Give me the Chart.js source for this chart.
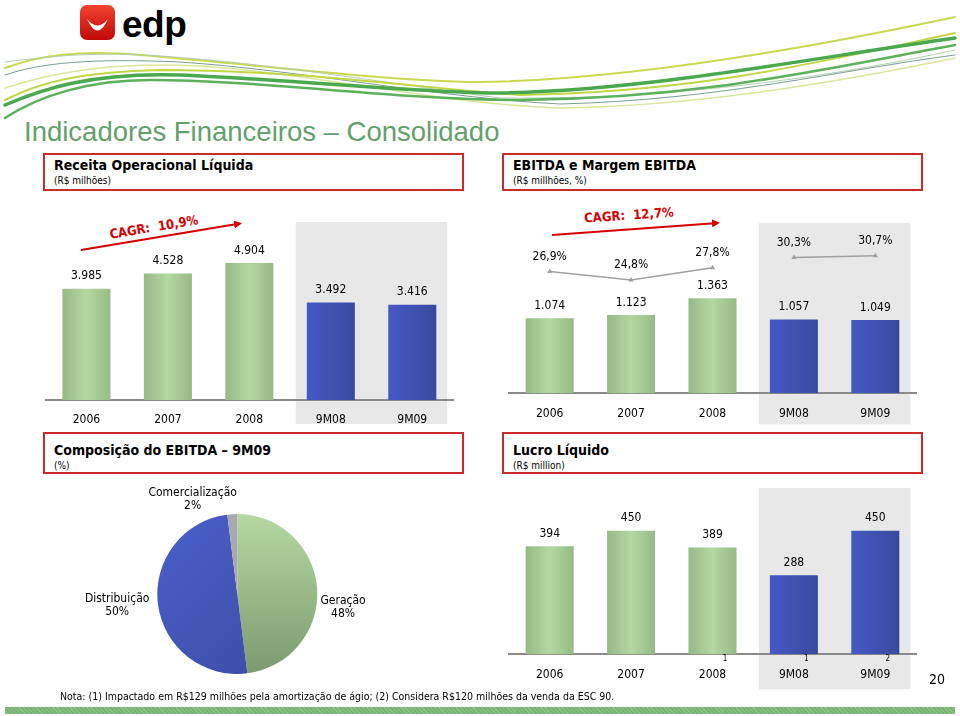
<!DOCTYPE html>
<html>
<head>
<meta charset="utf-8">
<script src="https://cdn.jsdelivr.net/npm/chart.js@4.4.1/dist/chart.umd.min.js"></script>
<style>
  body { margin: 0; width: 960px; height: 716px; position: relative; overflow: hidden; background: #fff;
         font-family: Tahoma, "DejaVu Sans Condensed", "DejaVu Sans", sans-serif; color: #000; }
  canvas { position: absolute; }
  .box { position: absolute; border: 2px solid #cc2b2b; box-sizing: border-box; }
  .box b { position: absolute; left: 9px; font-size: 14px; white-space: nowrap; }
  .box span { position: absolute; left: 9px; font-size: 10px; white-space: nowrap; }
  #title { position: absolute; left: 24px; top: 116px; font: 27.5px "Liberation Sans", Arial, sans-serif; color: #63a06c; white-space: nowrap; }
  #nota { position: absolute; left: 60px; top: 690px; font-size: 10.5px; white-space: nowrap; }
  #page { position: absolute; left: 929px; top: 671px; font-size: 14px; }
  #strip { position: absolute; left: 5px; top: 707px; width: 950px; height: 7px;
           background: repeating-linear-gradient(45deg, #7ab477 0 2px, #8cc488 2px 3px); }
</style>
</head>
<body>

<svg width="960" height="716" style="position:absolute;left:0;top:0">
  <defs>
    <linearGradient id="logoRed" x1="0" y1="0" x2="0" y2="1">
      <stop offset="0" stop-color="#f2432f"/>
      <stop offset="1" stop-color="#c00a0a"/>
    </linearGradient>
    <marker id="arrow" markerWidth="8" markerHeight="8" refX="6" refY="4" orient="auto" markerUnits="userSpaceOnUse">
      <path d="M0,0 L8,4 L0,8 Z" fill="#d40000"/>
    </marker>
  </defs>
  <!-- logo -->
  <rect x="80" y="5" width="35" height="35" rx="7" fill="url(#logoRed)"/>
  <path d="M87,19 Q97.5,42 108,19 Q97.5,32 87,19 Z" fill="#fff"/>
  <text x="122" y="37" font-family="'Liberation Sans', Arial, sans-serif" font-weight="bold" font-size="37" letter-spacing="-0.5">edp</text>
  <!-- swooshes -->
  <g fill="none" stroke-linecap="round">
    <path d="M5,68 C40,55 80,50 140,55 C260,65 400,82 480,82 C620,80 800,50 955,17" stroke="#c9d94f" stroke-width="2"/>
    <path d="M5,62 C60,55 100,52 160,56 C280,64 420,88 500,98 C680,100 840,75 955,50" stroke="#b6cfb0" stroke-width="1"/>
    <path d="M5,75 C40,63 90,58 180,62 C300,70 440,98 560,104 C720,100 840,70 955,55" stroke="#7a9e95" stroke-width="1"/>
    <path d="M5,88 C60,70 120,62 200,66 C320,74 440,104 560,108 C700,106 840,82 955,58" stroke="#dbe69a" stroke-width="1.5"/>
    <path d="M5,100 C40,82 80,72 160,70 C300,70 420,88 520,95 C700,92 820,62 955,33" stroke="#c2d646" stroke-width="2"/>
    <path d="M5,105 C40,90 90,72 180,75 C300,80 420,93 500,93 C650,90 800,60 955,38" stroke="#4aa84f" stroke-width="3.5"/>
    <path d="M5,118 C40,95 90,80 150,80 C260,80 400,100 520,100 C700,98 820,70 955,45" stroke="#5bb25b" stroke-width="2.5"/>
  </g>
  <!-- CAGR arrows -->
  <line x1="81" y1="250" x2="240" y2="223.5" stroke="#d40000" stroke-width="2" marker-end="url(#arrow)"/>
  <text transform="translate(154,228) rotate(-9.5)" text-anchor="middle" dominant-baseline="middle"
        font-family="Tahoma, 'DejaVu Sans Condensed', 'DejaVu Sans', sans-serif" font-weight="bold" font-size="13" fill="#d40000">CAGR:&#160; 10,9%</text>
  <line x1="552" y1="235" x2="718" y2="223" stroke="#d40000" stroke-width="2" marker-end="url(#arrow)"/>
  <text transform="translate(629,216) rotate(-4)" text-anchor="middle" dominant-baseline="middle"
        font-family="Tahoma, 'DejaVu Sans Condensed', 'DejaVu Sans', sans-serif" font-weight="bold" font-size="13" fill="#d40000">CAGR:&#160; 12,7%</text>
</svg>

<div id="title">Indicadores Financeiros – Consolidado</div>

<div class="box" style="left:43px;top:153px;width:421px;height:38px"><b style="top:2px">Receita Operacional Líquida</b><span style="top:20px">(R$ milhões)</span></div>
<div class="box" style="left:502px;top:153px;width:421px;height:38px"><b style="top:2px">EBITDA e Margem EBITDA</b><span style="top:20px">(R$ millhões, %)</span></div>
<div class="box" style="left:43px;top:432px;width:421px;height:42px"><b style="top:8px">Composição do EBITDA – 9M09</b><span style="top:26px">(%)</span></div>
<div class="box" style="left:502px;top:432px;width:421px;height:42px"><b style="top:8px">Lucro Líquido</b><span style="top:26px">(R$ million)</span></div>

<canvas id="receitaChart" width="440" height="225" style="left:30px;top:210px"></canvas>
<canvas id="ebitdaChart" width="440" height="235" style="left:490px;top:200px"></canvas>
<canvas id="pieChart" width="355" height="200" style="left:60px;top:480px"></canvas>
<canvas id="lucroChart" width="440" height="225" style="left:490px;top:480px"></canvas>

<div id="nota">Nota: (1) Impactado em R$129 milhões pela amortização de ágio; (2) Considera R$120 milhões da venda da ESC 90.</div>
<div id="page">20</div>
<div id="strip"></div>

<script>
const years = ["2006", "2007", "2008", "9M08", "9M09"];
const receita = [3985, 4528, 4904, 3492, 3416];
const ebitda = [1074, 1123, 1363, 1057, 1049];
const margem = [26.9, 24.8, 27.8, 30.3, 30.7];
const lucro = [394, 450, 389, 288, 450];
const lucroNotes = ["", "", "1", "1", "2"];
const pieLabels = ["Geração", "Distribuição", "Comercialização"];
const pieValues = [48, 50, 2];

const FONT = 'Tahoma, "DejaVu Sans Condensed", "DejaVu Sans", sans-serif';
Chart.defaults.font.family = FONT;
Chart.defaults.color = "#000";

const thousands = v => String(v).replace(/\B(?=(\d{3})+(?!\d))/g, ".");
const pct = v => v.toFixed(1).replace(".", ",") + "%";

// horizontal gradient on each bar, green for years, blue for 9M
function barFill(ctx) {
    const chart = ctx.chart;
    const i = ctx.dataIndex;
    const solid = i < 3 ? "#a6cb93" : "#4054b4";
    const x = chart.scales.x;
    if (!chart.chartArea || !x || ctx.type !== "data") return solid;
    const cx = x.getPixelForValue(i);
    const hw = x.width / years.length * 0.59 / 2;
    const g = chart.ctx.createLinearGradient(cx - hw, 0, cx + hw, 0);
    if (i < 3) {
        g.addColorStop(0, "#96ba86");
        g.addColorStop(0.5, "#b4d8a0");
        g.addColorStop(1, "#96ba86");
    } else {
        g.addColorStop(0, "#4559c4");
        g.addColorStop(1, "#384a9f");
    }
    return g;
}

// grey band behind 9M columns, value labels, footnote marks
const decoPlugin = {
    id: "deco",
    beforeDraw(chart, args, opts) {
        const x = chart.scales.x, a = chart.chartArea, c = chart.ctx;
        c.save();
        c.fillStyle = "#e8e8e8";
        const l = x.getPixelForValue(3) - 35, r = x.getPixelForValue(4) + 35;
        c.fillRect(l, a.top, r - l, a.bottom - a.top + opts.below);
        c.restore();
    },
    afterDatasetsDraw(chart) {
        const c = chart.ctx;
        c.save();
        c.font = "12px " + FONT;
        c.fillStyle = "#000";
        c.textAlign = "center";
        c.textBaseline = "middle";
        chart.data.datasets.forEach((ds, di) => {
            const meta = chart.getDatasetMeta(di);
            meta.data.forEach((el, i) => {
                if (ds.type === "line") c.fillText(pct(ds.data[i]), el.x, el.y - 15);
                else c.fillText(thousands(ds.data[i]), el.x, el.y - 12.5);
            });
        });
        c.restore();
    },
    afterDraw(chart, args, opts) {
        if (!opts.notes) return;
        const c = chart.ctx, x = chart.scales.x;
        c.save();
        c.font = "8px " + FONT;
        c.fillStyle = "#000";
        c.textAlign = "center";
        c.textBaseline = "middle";
        opts.notes.forEach((n, i) => { if (n) c.fillText(n, x.getPixelForValue(i) + 12.5, chart.chartArea.bottom + 5); });
        c.restore();
    }
};

function xAxis() {
    return {
        grid: { display: false, drawTicks: false },
        border: { display: true, color: "#8a8a8a", width: 2 },
        ticks: { padding: 13, font: { size: 12 }, color: "#000" },
        afterFit: s => { s.height = 30; }
    };
}

function barChart(id, values, yMax, pad, below, notes) {
    new Chart(document.getElementById(id), {
        type: "bar",
        data: {
            labels: years,
            datasets: [{ data: values, backgroundColor: barFill, barPercentage: 0.59, categoryPercentage: 1 }]
        },
        options: {
            responsive: false,
            animation: false,
            layout: { padding: pad },
            plugins: { legend: { display: false }, tooltip: { enabled: false }, deco: { below: below, notes: notes } },
            scales: { x: xAxis(), y: { display: false, min: 0, max: yMax } }
        },
        plugins: [decoPlugin]
    });
}

barChart("receitaChart", receita, 6376, { left: 15.7, right: 17, top: 12, bottom: 5 }, 24);
barChart("lucroChart", lucro, 606, { left: 19, right: 14, top: 8, bottom: 20.7 }, 35, lucroNotes);

new Chart(document.getElementById("ebitdaChart"), {
    data: {
        labels: years,
        datasets: [
            {
                type: "line", data: margem, yAxisID: "y1",
                borderColor: "#a0a0a0", borderWidth: 1.5,
                pointStyle: "triangle", pointRadius: 3, pointBackgroundColor: "#a0a0a0", pointBorderWidth: 0,
                segment: { borderColor: ctx => ctx.p0DataIndex === 2 ? "rgba(0,0,0,0)" : "#a0a0a0" }
            },
            { type: "bar", data: ebitda, backgroundColor: barFill, barPercentage: 0.59, categoryPercentage: 1 }
        ]
    },
    options: {
        responsive: false,
        animation: false,
        layout: { padding: { left: 19, right: 14, top: 23, bottom: 11.7 } },
        plugins: { legend: { display: false }, tooltip: { enabled: false }, deco: { below: 31 } },
        scales: {
            x: xAxis(),
            y: { display: false, min: 0, max: 2440 },
            y1: { display: false, min: -2.83, max: 38.71 }
        }
    },
    plugins: [decoPlugin]
});

// pie with outside labels
const pieLabelPlugin = {
    id: "pieLabels",
    afterDatasetsDraw(chart, args, opts) {
        const c = chart.ctx;
        c.save();
        c.font = "12px " + FONT;
        c.fillStyle = "#000";
        c.textAlign = "center";
        c.textBaseline = "middle";
        chart.getDatasetMeta(0).data.forEach((arc, i) => {
            const mid = (arc.startAngle + arc.endAngle) / 2;
            const r = arc.outerRadius + 26;
            const off = opts.offsets[i];
            const lx = arc.x + Math.cos(mid) * r + off[0];
            const ly = arc.y + Math.sin(mid) * r + off[1];
            c.fillText(pieLabels[i], lx, ly - 6.5);
            c.fillText(pieValues[i] + "%", lx, ly + 6.5);
        });
        c.restore();
    }
};

function pieFill(ctx) {
    const chart = ctx.chart, a = chart.chartArea;
    const solid = ["#98bf86", "#4157bd", "#a8a8b0"][ctx.dataIndex];
    if (!a || ctx.type !== "data") return solid;
    const c = chart.ctx;
    let g;
    if (ctx.dataIndex === 0) {
        g = c.createLinearGradient(0, a.top, 0, a.bottom);
        g.addColorStop(0, "#b5d9a1");
        g.addColorStop(1, "#7b9a6f");
    } else if (ctx.dataIndex === 1) {
        g = c.createLinearGradient(a.left, a.top, a.right, a.bottom);
        g.addColorStop(0, "#4a5fcc");
        g.addColorStop(1, "#3a4b9e");
    } else {
        return solid;
    }
    return g;
}

new Chart(document.getElementById("pieChart"), {
    type: "pie",
    data: {
        labels: pieLabels,
        datasets: [{ data: pieValues, backgroundColor: pieFill, borderWidth: 0 }]
    },
    options: {
        responsive: false,
        animation: false,
        layout: { padding: { left: 97.3, right: 97.7, top: 34, bottom: 6 } },
        plugins: {
            legend: { display: false },
            tooltip: { enabled: false },
            pieLabels: { offsets: [[0, 20], [-15, -2], [-38, 11]] }
        }
    },
    plugins: [pieLabelPlugin]
});
</script>
</body>
</html>
